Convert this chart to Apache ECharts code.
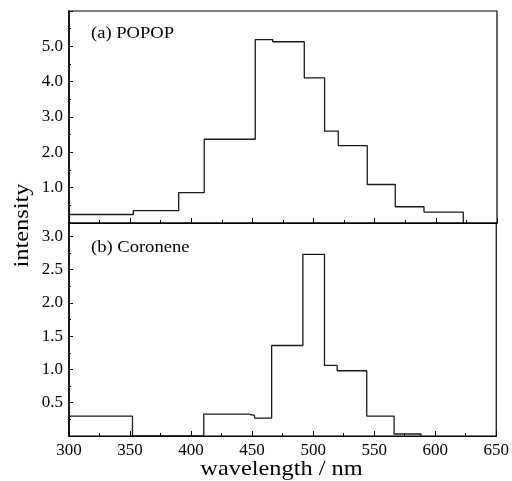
<!DOCTYPE html>
<html><head><meta charset="utf-8">
<script src="https://cdn.jsdelivr.net/npm/echarts@6/dist/echarts.min.js"></script>
<style>html,body{margin:0;padding:0;background:#fff}#c{width:512px;height:481px}</style>
</head><body><div id="c"></div>
<script>
// Bin edges (nm) and intensity value of the bin starting at each edge
const popopEdges = [300, 352.6, 389.7, 410.6, 452.3, 466.6, 492.4, 509.0, 520.2, 543.9, 566.8, 590.3, 622.4];
const popopValues = [0.24, 0.35, 0.86, 2.37, 5.19, 5.13, 4.11, 2.60, 2.19, 1.09, 0.46, 0.31, 0];
const coroEdges = [300, 352.0, 410.4, 447.0, 452.0, 466.0, 491.6, 509.3, 519.7, 543.9, 566.3, 588.4];
const coroValues = [0.30, 0, 0.33, 0.31, 0.27, 1.36, 2.73, 1.06, 0.98, 0.30, 0.03, 0];
const xTicks = [300, 350, 400, 450, 500, 550, 600, 650];
const yTicksTop = [1.0, 2.0, 3.0, 4.0, 5.0];
const yTicksBottom = [0.5, 1.0, 1.5, 2.0, 2.5, 3.0];

const pairs = (e, v) => e.map((x, i) => [x, v[i]]);
const font = 'Liberation Serif';
const black = '#000';
const lbl = {color: black, fontFamily: font, fontSize: 17};

function xAx(gi, showLabel) {
  return {
    type: 'value', gridIndex: gi, min: xTicks[0], max: xTicks[xTicks.length - 1], interval: 50,
    axisLine: {show: true, lineStyle: {color: black, width: 1.2}},
    axisTick: {show: true, inside: true, length: 5, lineStyle: {color: black}},
    minorTick: {show: true, splitNumber: 2, length: 3, lineStyle: {color: black}},
    splitLine: {show: false},
    axisLabel: {show: showLabel, ...lbl, margin: 6}
  };
}
function yAx(gi, max, interval, ticks) {
  return {
    type: 'value', gridIndex: gi, min: 0, max: max, interval: interval,
    axisLine: {show: true, lineStyle: {color: black, width: 1.5}},
    axisTick: {show: true, inside: true, length: 4, lineStyle: {color: black}},
    minorTick: {show: true, splitNumber: 2, length: 2, lineStyle: {color: black}},
    splitLine: {show: false},
    axisLabel: {...lbl, margin: 6, showMinLabel: true, showMaxLabel: true,
      formatter: v => ticks.some(t => Math.abs(t - v) < 1e-6) ? v.toFixed(1) : ''}
  };
}

const chart = echarts.init(document.getElementById('c'), null, {renderer: 'canvas'});
chart.setOption({
  animation: false,
  backgroundColor: '#fff',
  grid: [
    {left: 69, right: 15, top: 11, height: 212, show: true, borderColor: black, borderWidth: 1.2, backgroundColor: 'transparent'},
    {left: 69, right: 15, top: 223, height: 213, show: true, borderColor: black, borderWidth: 1.2, backgroundColor: 'transparent'}
  ],
  xAxis: [xAx(0, false), xAx(1, true)],
  yAxis: [yAx(0, 6, 1, yTicksTop), yAx(1, 3.2, 0.5, yTicksBottom)],
  series: [
    {type: 'line', xAxisIndex: 0, yAxisIndex: 0, step: 'end', data: pairs(popopEdges, popopValues),
     symbol: 'none', lineStyle: {color: '#1a1a1a', width: 1.3}},
    {type: 'line', xAxisIndex: 1, yAxisIndex: 1, step: 'end', data: pairs(coroEdges, coroValues),
     symbol: 'none', lineStyle: {color: '#1a1a1a', width: 1.3}}
  ],
  graphic: [
    {type: 'text', x: 91, y: 26, scaleX: 1.16, style: {text: '(a) POPOP', fill: black, font: '16px "Liberation Serif"'}},
    {type: 'text', x: 91, y: 240, scaleX: 1.16, style: {text: '(b) Coronene', fill: black, font: '16px "Liberation Serif"'}},
    {type: 'text', x: 22, y: 225.5, rotation: Math.PI / 2, scaleX: 1.16,
     style: {text: 'intensity', fill: black, font: '21px "Liberation Serif"', align: 'center', verticalAlign: 'middle'}},
    {type: 'text', x: 281.5, y: 469, scaleX: 1.16, style: {text: 'wavelength / nm', fill: black, font: '21px "Liberation Serif"', align: 'center', verticalAlign: 'middle'}}
  ]
});
</script></body></html>
